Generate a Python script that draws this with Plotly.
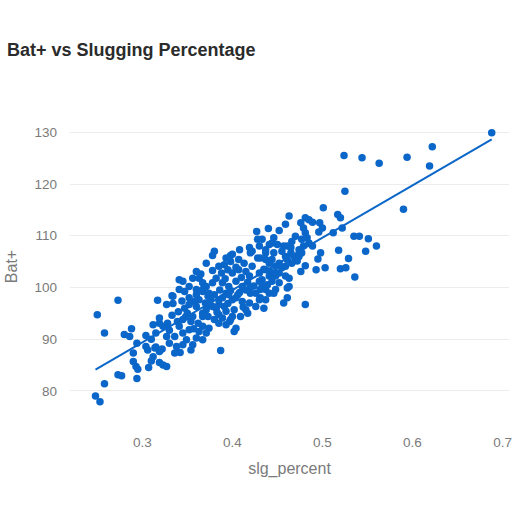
import numpy as np
import plotly.graph_objects as go

# slugging percentage vs Bat+
slg_percent = [
    0.248, 0.253, 0.258, 0.273, 0.277, 0.250, 0.258, 0.273, 0.280, 0.286,
    0.288, 0.294, 0.290, 0.290, 0.293, 0.295, 0.294, 0.307, 0.310, 0.312,
    0.319, 0.327, 0.304, 0.306, 0.315, 0.319, 0.322, 0.304, 0.310, 0.315,
    0.312, 0.319, 0.317, 0.333, 0.327, 0.334, 0.319, 0.327, 0.330, 0.327,
    0.336, 0.330, 0.338, 0.336, 0.323, 0.314, 0.323, 0.328, 0.341, 0.339,
    0.345, 0.345, 0.349, 0.345, 0.352, 0.354, 0.356, 0.350, 0.347, 0.352,
    0.360, 0.363, 0.360, 0.367, 0.373, 0.380, 0.385, 0.393, 0.400, 0.406,
    0.374, 0.382, 0.391, 0.402, 0.367, 0.373, 0.380, 0.389, 0.397, 0.362,
    0.367, 0.374, 0.363, 0.371, 0.360, 0.367, 0.402, 0.387, 0.356, 0.354,
    0.342, 0.341, 0.345, 0.334, 0.360, 0.371, 0.356, 0.363, 0.367, 0.352,
    0.360, 0.347, 0.341, 0.380, 0.378, 0.398, 0.408, 0.419, 0.422, 0.428,
    0.437, 0.444, 0.430, 0.441, 0.430, 0.441, 0.448, 0.437, 0.446, 0.430,
    0.426, 0.415, 0.385, 0.391, 0.395, 0.400, 0.407, 0.413, 0.415, 0.422,
    0.419, 0.437, 0.442, 0.448, 0.452, 0.459, 0.461, 0.448, 0.430, 0.426,
    0.431, 0.420, 0.411, 0.404, 0.396, 0.389, 0.382, 0.378, 0.371, 0.367,
    0.374, 0.389, 0.396, 0.404, 0.411, 0.419, 0.385, 0.378, 0.371, 0.367,
    0.385, 0.393, 0.400, 0.409, 0.417, 0.385, 0.393, 0.404, 0.400, 0.420,
    0.444, 0.446, 0.457, 0.459, 0.437, 0.452, 0.407, 0.393, 0.428, 0.459,
    0.398, 0.435, 0.501, 0.463, 0.517, 0.520, 0.481, 0.485, 0.489, 0.476,
    0.479, 0.459, 0.497, 0.500, 0.496, 0.512, 0.481, 0.483, 0.477, 0.485,
    0.479, 0.489, 0.474, 0.470, 0.466, 0.446, 0.450, 0.461, 0.465, 0.455,
    0.465, 0.469, 0.474, 0.477, 0.498, 0.518, 0.495, 0.503, 0.493, 0.476,
    0.481, 0.463, 0.463, 0.461, 0.457, 0.481, 0.444, 0.441, 0.437, 0.433,
    0.437, 0.431, 0.441, 0.448, 0.435, 0.433, 0.439, 0.455, 0.461, 0.466,
    0.472, 0.452, 0.431, 0.688, 0.622, 0.524, 0.544, 0.563, 0.594, 0.619,
    0.525, 0.590, 0.522, 0.535, 0.541, 0.551, 0.560, 0.548, 0.529, 0.520,
    0.526, 0.536, 0.427, 0.440, 0.452, 0.410, 0.417, 0.424, 0.433, 0.415,
    0.408, 0.398, 0.392, 0.386, 0.376, 0.370, 0.383, 0.395, 0.412, 0.420,
    0.404, 0.398, 0.388, 0.378, 0.365, 0.352, 0.357, 0.344, 0.340, 0.333,
    0.357, 0.348,
]
bat_plus = [
    79.0, 77.9, 81.4, 83.1, 82.9, 94.7, 91.2, 97.5, 90.9, 90.5,
    92.0, 89.2, 87.3, 85.7, 84.7, 84.2, 82.4, 84.5, 85.8, 86.6,
    85.5, 84.7, 88.6, 87.9, 88.5, 87.6, 88.1, 90.7, 90.0, 91.2,
    92.8, 93.1, 97.5, 98.4, 96.7, 96.9, 94.1, 92.5, 91.7, 90.5,
    90.5, 89.2, 88.6, 87.3, 85.0, 88.3, 92.5, 93.1, 92.5, 93.4,
    93.8, 91.2, 89.9, 88.9, 91.8, 93.4, 94.4, 95.0, 96.0, 96.7,
    96.3, 97.6, 98.6, 99.2, 98.3, 98.6, 97.6, 98.9, 97.6, 98.6,
    96.7, 96.0, 96.3, 95.7, 95.0, 94.4, 93.8, 94.1, 93.4, 93.1,
    92.5, 92.1, 91.5, 91.2, 90.2, 89.9, 91.5, 87.8, 88.9, 87.9,
    87.4, 101.5, 101.2, 98.3, 103.1, 104.7, 101.8, 101.8, 100.9, 100.2,
    99.6, 99.2, 99.6, 107.0, 106.2, 106.2, 107.3, 107.7, 107.0, 109.3,
    106.7, 105.4, 108.0, 108.3, 102.8, 102.2, 102.8, 99.6, 98.9, 97.6,
    96.3, 95.7, 104.1, 104.4, 103.4, 102.8, 103.4, 104.7, 103.1, 104.1,
    102.2, 103.4, 103.1, 102.2, 100.9, 102.2, 99.9, 99.6, 101.2, 98.9,
    98.0, 98.9, 100.2, 101.2, 100.2, 100.9, 101.8, 100.9, 100.2, 99.6,
    98.9, 98.0, 98.6, 98.0, 97.3, 97.0, 96.7, 96.3, 95.7, 94.4,
    94.7, 95.4, 94.4, 94.4, 95.0, 93.1, 92.8, 92.1, 106.4, 106.7,
    108.6, 106.7, 108.0, 106.0, 105.4, 104.7, 105.4, 105.7, 105.7, 104.1,
    93.8, 96.0, 115.4, 113.8, 114.1, 113.5, 113.5, 113.1, 112.6, 112.5,
    111.5, 112.2, 112.5, 111.5, 110.7, 110.6, 110.6, 109.6, 109.3, 108.6,
    108.0, 108.0, 107.3, 109.9, 108.9, 109.6, 108.3, 108.0, 107.7, 107.0,
    106.7, 105.9, 106.0, 106.7, 106.7, 107.2, 105.5, 103.8, 103.4, 103.1,
    104.2, 101.8, 100.2, 98.0, 97.0, 96.7, 101.2, 98.9, 97.6, 109.3,
    107.3, 105.7, 104.7, 104.1, 103.5, 101.5, 100.5, 103.8, 105.4, 104.7,
    105.1, 102.8, 99.6, 129.9, 127.2, 125.5, 125.1, 124.0, 125.2, 123.5,
    118.6, 115.1, 111.5, 109.9, 109.9, 109.4, 108.0, 107.0, 105.6, 103.6,
    103.8, 102.0, 110.8, 111.4, 111.0, 101.9, 101.0, 100.3, 100.6, 99.5,
    99.0, 99.4, 101.7, 99.5, 97.6, 97.0, 95.2, 96.9, 96.2, 100.0,
    103.9, 105.0, 102.8, 103.3, 102.6, 98.0, 97.3, 97.4, 95.3, 94.6,
    92.0, 94.3,
]

blue = "#0b66c9"
grey = "#7a7a7a"

# least squares trend line over the data span
slope, intercept = np.polyfit(slg_percent, bat_plus, 1)
trend_x = [min(slg_percent), max(slg_percent)]
trend_y = [slope * v + intercept for v in trend_x]

fig = go.Figure()
fig.add_trace(go.Scatter(x=slg_percent, y=bat_plus, mode="markers",
                         marker=dict(color=blue, size=7.5, line=dict(width=0)),
                         showlegend=False))
fig.add_trace(go.Scatter(x=trend_x, y=trend_y, mode="lines",
                         line=dict(color=blue, width=2), showlegend=False))

fig.update_layout(
    width=512, height=512,
    margin=dict(l=70, r=0, t=108, b=87),
    paper_bgcolor="white", plot_bgcolor="white",
    font=dict(family="Liberation Sans, Arial, sans-serif", color=grey),
    title=dict(text="<b>Bat+ vs Slugging Percentage</b>", xref="container", x=0.0137,
               xanchor="left", yref="container", y=0.902, yanchor="middle",
               pad=dict(l=0), font=dict(size=18, color="#2b2b2b")),
)
fig.update_xaxes(range=[0.2197, 0.7072], dtick=0.1, showgrid=False, zeroline=False,
                 showline=False, ticks="", tickfont=dict(size=13.5, color=grey),
                 ticklabelstandoff=7, ticklabeloverflow="allow",
                 title=dict(text="slg_percent", font=dict(size=16, color=grey), standoff=14))
fig.update_yaxes(range=[73.4, 134.7], tickvals=[80, 90, 100, 110, 120, 130],
                 showgrid=True, gridcolor="#ececec", gridwidth=1, zeroline=False,
                 showline=False, ticks="", tickfont=dict(size=13.5, color=grey),
                 ticklabelstandoff=12,
                 title=dict(text="Bat+", font=dict(size=16, color=grey), standoff=12))

# drop the default page margin so the chart sits flush with the window
fig.write_html("out.html", config={"displayModeBar": False},
               post_script="document.body.style.margin = '0px';")
